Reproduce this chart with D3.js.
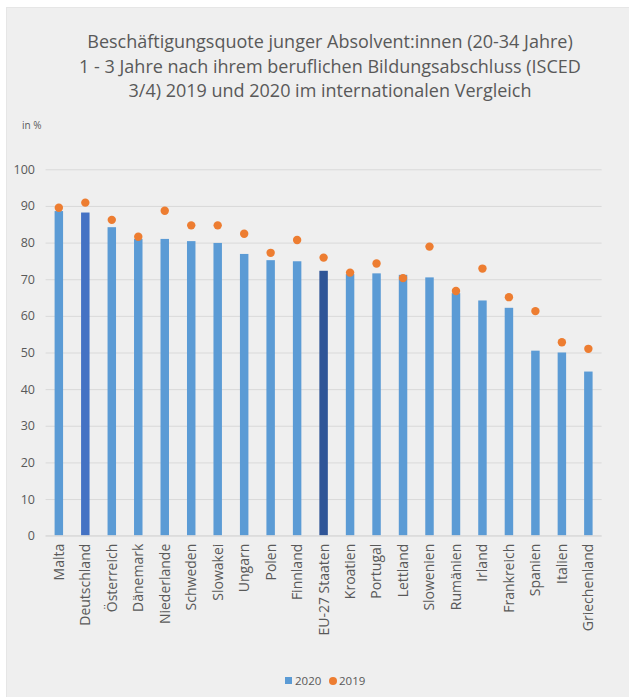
<!DOCTYPE html>
<html>
<head>
<meta charset="utf-8">
<script src="https://cdn.jsdelivr.net/npm/d3@7"></script>
<style>
    body { margin: 0; background: #fff; }
    svg { display: block; font-family: "Open Sans", sans-serif; }
</style>
</head>
<body>
<div id="chart"></div>
<script>
// categories (countries)
var countries = ['Malta', 'Deutschland', 'Österreich', 'Dänemark', 'Niederlande', 'Schweden',
    'Slowakei', 'Ungarn', 'Polen', 'Finnland', 'EU-27 Staaten', 'Kroatien', 'Portugal',
    'Lettland', 'Slowenien', 'Rumänien', 'Irland', 'Frankreich', 'Spanien', 'Italien', 'Griechenland'];

// employment rate 2020 (bars)
var values2020 = [88.6, 88.2, 84.2, 81.0, 81.0, 80.4, 79.9, 76.9, 75.2, 74.9, 72.3, 71.4,
    71.6, 71.2, 70.5, 66.2, 64.2, 62.2, 50.5, 50.0, 44.8];

// employment rate 2019 (dots)
var values2019 = [89.5, 90.9, 86.2, 81.6, 88.7, 84.7, 84.7, 82.4, 77.2, 80.7, 75.9, 71.8,
    74.3, 70.3, 78.9, 66.8, 72.9, 65.1, 61.3, 52.8, 51.0];

var yTicks = [0, 10, 20, 30, 40, 50, 60, 70, 80, 90, 100];

var titleLines = [
    'Beschäftigungsquote junger Absolvent:innen (20-34 Jahre)',
    '1 - 3 Jahre nach ihrem beruflichen Bildungsabschluss (ISCED',
    '3/4) 2019 und 2020 im internationalen Vergleich'
];

var width = 629, height = 697;
var textColor = '#595959';

// bar colours, highlight Germany and the EU average
function barColor(name){
    if(name == 'Deutschland'){ return '#4472C4'; }
    if(name == 'EU-27 Staaten'){ return '#2F5597'; }
    return '#5B9BD5';
}

var svg = d3.select('#chart').append('svg')
    .attr('width', width)
    .attr('height', height);

// grey chart area
svg.append('rect')
    .attr('x', 6.5).attr('y', 7.5)
    .attr('width', width).attr('height', height)
    .attr('fill', '#efefef')
    .attr('stroke', '#e6e6e6');

// title
svg.append('g').selectAll('text')
    .data(titleLines)
    .enter().append('text')
        .attr('x', 330)
        .attr('y', function(d, i){ return 48 + i * 24.5; })
        .attr('text-anchor', 'middle')
        .attr('fill', textColor)
        .style('font-size', '18px')
        .text(function(d){ return d; });

svg.append('text')
    .attr('x', 22).attr('y', 129)
    .attr('fill', textColor)
    .style('font-size', '10px')
    .text('in %');

// scales
var x = d3.scaleBand()
    .domain(countries)
    .range([45.6, 601.6])
    .paddingInner(0.68)
    .paddingOuter(0.34);

var y = d3.scaleLinear()
    .domain([0, 100])
    .range([535.7, 169.3]);

// gridlines
svg.append('g')
    .attr('transform', 'translate(45.6,0)')
    .call(d3.axisLeft(y).tickValues(yTicks).tickSize(-556).tickFormat(''))
    .call(function(g){
        g.select('.domain').remove();
        g.selectAll('line').attr('stroke', '#d9d9d9').attr('stroke-width', 1);
    });

// y labels
svg.append('g')
    .attr('transform', 'translate(35,0)')
    .call(d3.axisLeft(y).tickValues(yTicks).tickSize(0).tickPadding(0))
    .call(function(g){
        g.select('.domain').remove();
        g.selectAll('text').attr('fill', textColor).style('font-size', '12.5px')
            .style('font-family', '"Open Sans", sans-serif');
    });

// bars
svg.append('g').selectAll('rect')
    .data(countries)
    .enter().append('rect')
        .attr('x', function(d){ return x(d); })
        .attr('width', x.bandwidth())
        .attr('y', function(d, i){ return y(values2020[i]); })
        .attr('height', function(d, i){ return y(0) - y(values2020[i]); })
        .attr('fill', function(d){ return barColor(d); });

// baseline
svg.append('line')
    .attr('x1', 45.6).attr('x2', 601.6)
    .attr('y1', y(0)).attr('y2', y(0))
    .attr('stroke', '#d9d9d9');

// 2019 dots
svg.append('g').selectAll('circle')
    .data(countries)
    .enter().append('circle')
        .attr('cx', function(d){ return x(d) + x.bandwidth() / 2; })
        .attr('cy', function(d, i){ return y(values2019[i]); })
        .attr('r', 4.2)
        .attr('fill', '#ED7D31');

// x labels (rotated)
svg.append('g')
    .attr('transform', 'translate(0,' + y(0) + ')')
    .call(d3.axisBottom(x).tickSize(0).tickPadding(0))
    .call(function(g){
        g.select('.domain').remove();
        g.selectAll('text')
            .attr('fill', textColor)
            .style('font-size', '14px')
            .style('font-family', '"Open Sans", sans-serif')
            .attr('text-anchor', 'end')
            .attr('transform', 'rotate(-90)')
            .attr('x', -8)
            .attr('y', 0)
            .attr('dy', '0.35em');
    });

// legend
var legend = svg.append('g').attr('transform', 'translate(285,681)');
legend.append('rect')
    .attr('x', 0).attr('y', -4).attr('width', 7).attr('height', 7)
    .attr('fill', '#5B9BD5');
legend.append('text')
    .attr('x', 10).attr('y', 4)
    .attr('fill', textColor).style('font-size', '11.5px')
    .text('2020');
legend.append('circle')
    .attr('cx', 48).attr('cy', 0).attr('r', 4)
    .attr('fill', '#ED7D31');
legend.append('text')
    .attr('x', 54).attr('y', 4)
    .attr('fill', textColor).style('font-size', '11.5px')
    .text('2019');
</script>
</body>
</html>
